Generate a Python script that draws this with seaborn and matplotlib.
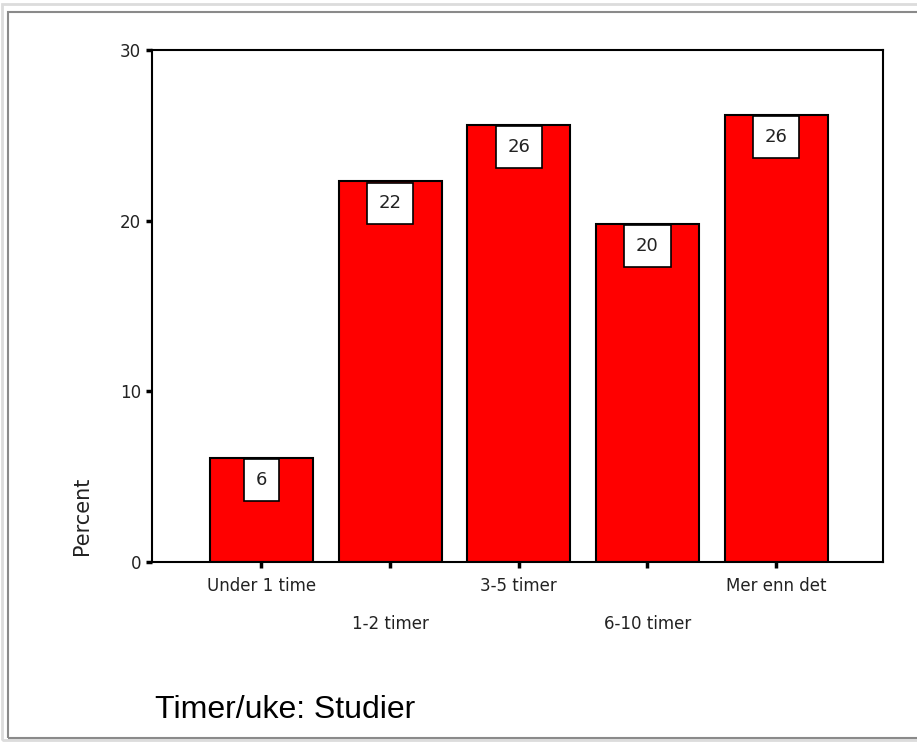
import matplotlib
matplotlib.use("Agg")
import matplotlib.pyplot as plt
import seaborn as sns
from matplotlib.patches import Rectangle

# Timer/uke brukt til studier (prosent)
categories = ["Under 1 time", "1-2 timer", "3-5 timer", "6-10 timer", "Mer enn det"]
percent = [6.1, 22.3, 25.6, 19.8, 26.2]
bar_labels = ["6", "22", "26", "20", "26"]

sns.set_style("ticks")
plt.rcParams['font.family'] = ['DejaVu Sans']

fig = plt.figure(figsize=(9.17, 7.42), dpi=100)
ax = fig.add_axes([152 / 917, 1 - 562 / 742, 731 / 917, 512 / 742])

sns.barplot(x=categories, y=percent, color="#ff0000", saturation=1,
            edgecolor="black", linewidth=1.5, width=0.8, ax=ax)

ax.set_xlim(-0.85, 4.83)
ax.set_ylim(0, 30)
ax.set_yticks([0, 10, 20, 30])

for sp in ax.spines.values():
    sp.set_visible(True)
    sp.set_color("black")
    sp.set_linewidth(1.5)

ax.tick_params(axis="both", direction="out", length=4, width=2.5,
               color="black", labelsize=12, labelcolor="#222222")
ax.tick_params(axis="y", pad=4)

# alternate tick labels on two rows, like the original
for i, tick in enumerate(ax.xaxis.get_major_ticks()):
    tick.set_pad(7 if i % 2 == 0 else 34)

# value labels in white boxes at the top of each bar
for i, (v, lab) in enumerate(zip(percent, bar_labels)):
    ax.annotate(lab, (i, v), xytext=(0, -22), textcoords="offset pixels",
                ha="center", va="center", fontsize=13, color="#222222",
                bbox=dict(boxstyle="square,pad=0.65", fc="white", ec="black", lw=1.2))

ax.set_ylabel("Percent", loc="bottom", fontsize=15, color="#222222")
ax.yaxis.set_label_coords(-0.082, 0.014)

ax.set_xlabel("Timer/uke: Studier", loc="left", fontsize=23,
              family=["Liberation Sans", "DejaVu Sans"], color="black")
ax.xaxis.set_label_coords(0.004, -0.26)

# grey frame around the whole picture
fig.patches.append(Rectangle((2 / 917, 2 / 742), 1.2, 1 - 6 / 742, transform=fig.transFigure,
                             fill=False, ec="#dcdcdc", lw=2))
fig.patches.append(Rectangle((8 / 917, 4 / 742), 1.2, 1 - 16 / 742, transform=fig.transFigure,
                             fill=False, ec="#8a8a8a", lw=1.5))

fig.savefig("out.png", dpi=100)
plt.close(fig)
